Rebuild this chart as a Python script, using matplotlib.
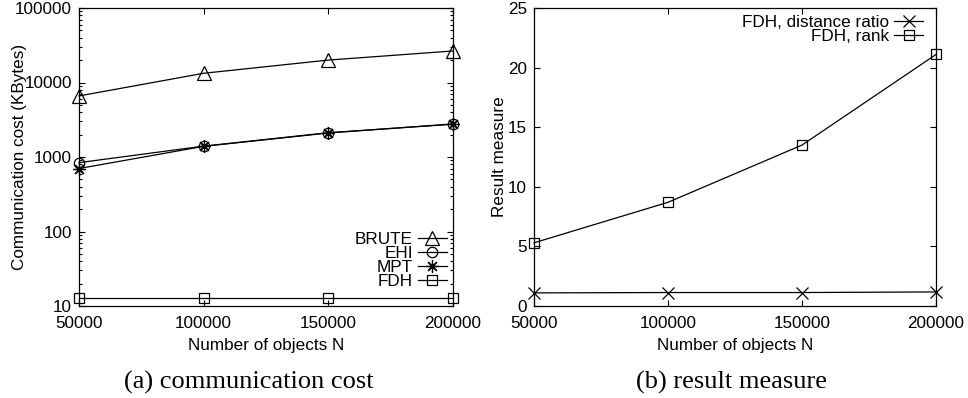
import numpy as np
import matplotlib
matplotlib.use("Agg")
import matplotlib.pyplot as plt
from matplotlib.ticker import LogLocator, NullFormatter

plt.rcParams['font.family'] = ['Liberation Sans', 'DejaVu Sans']
plt.rcParams['font.size'] = 12.3

# data
n_objects = [50000, 100000, 150000, 200000]
x_ticks = [50000, 100000, 150000, 200000]

cost_brute = [6600, 13300, 20000, 26500]
cost_ehi = [840, 1400, 2120, 2750]
cost_mpt = [700, 1390, 2100, 2780]
cost_fdh = [13, 13, 13, 13]
cost_ticks = [10, 100, 1000, 10000, 100000]

fdh_dist_ratio = [1.1, 1.13, 1.13, 1.18]
fdh_rank = [5.3, 8.7, 13.5, 21.1]
measure_ticks = [0, 5, 10, 15, 20, 25]

fig = plt.figure(figsize=(9.68, 3.98), dpi=100)
ax1 = fig.add_axes([79/968, 1-306/398, 374/968, 298/398])
ax2 = fig.add_axes([534/968, 1-306/398, 402/968, 298/398])

mk = dict(color='black', lw=0.9, mfc='none', mec='black', mew=0.9, clip_on=False)
ax1.plot(n_objects, cost_brute, marker='^', ms=10, label='BRUTE', **mk)
ax1.plot(n_objects, cost_ehi, marker='o', ms=7.5, label='EHI', **mk)
ax1.plot(n_objects, cost_mpt, marker=(8, 2, 0), ms=9, label='MPT', **mk)
ax1.plot(n_objects, cost_fdh, marker='s', ms=7.5, label='FDH', **mk)
ax1.set_yscale('log')
ax1.set_ylim(10, 100000)
ax1.set_yticks(cost_ticks)
ax1.set_yticklabels([str(t) for t in cost_ticks])
ax1.yaxis.set_minor_locator(LogLocator(base=10, subs=np.arange(2, 10)))
ax1.yaxis.set_minor_formatter(NullFormatter())
ax1.set_ylabel('Communication cost (KBytes)')
ax1.yaxis.set_label_coords(-0.14, 0.5)

ax2.plot(n_objects, fdh_dist_ratio, marker='x', ms=9, label='FDH, distance ratio', **mk)
ax2.plot(n_objects, fdh_rank, marker='s', ms=7.5, label='FDH, rank', **mk)
ax2.set_ylim(0, 25)
ax2.set_yticks(measure_ticks)
ax2.set_ylabel('Result measure')
ax2.yaxis.set_label_coords(-0.068, 0.5)

for ax in (ax1, ax2):
    ax.set_xlim(50000, 200000)
    ax.set_xticks(x_ticks)
    ax.set_xticklabels([str(t) for t in x_ticks])
    ax.set_xlabel('Number of objects N', labelpad=4.5)
    ax.tick_params(which='both', direction='in', top=True, right=True, width=0.8)
    ax.tick_params(which='major', length=4)
    ax.tick_params(which='minor', length=2)
    ax.tick_params(axis='x', pad=7.5)
    ax.tick_params(axis='y', pad=5)
    for s in ax.spines.values():
        s.set_linewidth(0.9)

leg_kw = dict(frameon=False, markerfirst=False, handlelength=1.7, handletextpad=0.3,
              labelspacing=-0.05, borderpad=0, borderaxespad=0)
ax1.legend(loc='lower right', bbox_to_anchor=(0.984, 0.057), **leg_kw)
ax2.legend(loc='upper right', bbox_to_anchor=(0.968, 0.977), **leg_kw)

cap = dict(ha='center', va='center', fontsize=19, family=['Liberation Serif', 'DejaVu Serif'])
fig.text(249/968, 1-382/398, '(a) communication cost', **cap)
fig.text(731/968, 1-382/398, '(b) result measure', **cap)

fig.savefig('out.png', dpi=100)
